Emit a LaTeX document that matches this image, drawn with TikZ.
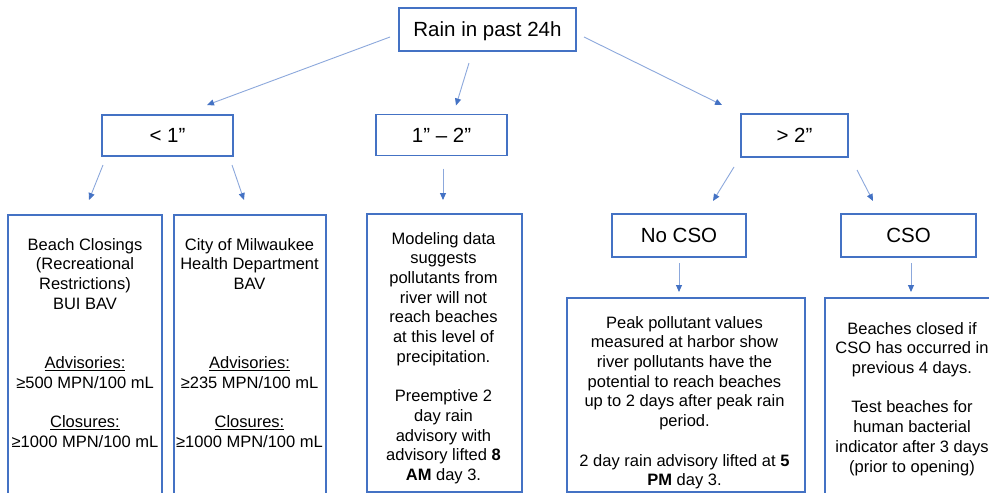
\documentclass[tikz,border=0pt]{standalone}
\usepackage{fontspec}
\setmainfont{Liberation Sans}
\usetikzlibrary{arrows.meta}
\definecolor{boxblue}{RGB}{68,114,196}
\definecolor{linkblue}{RGB}{140,168,220}

\begin{document}
\begin{tikzpicture}[x=1pt,y=-1pt,
  box/.style={draw=boxblue, line width=1.6pt, inner sep=0pt, outer sep=0pt},
  tag/.style={box, font=\fontsize{20.5}{24}\selectfont, text height=14.7pt, text depth=0pt},
  body/.style={anchor=north, align=center, inner sep=0pt, font=\fontsize{16.5}{19.7}\selectfont},
  link/.style={draw=linkblue, line width=0.9pt, -{Triangle[length=7pt,width=6pt,color=boxblue]}}]
\clip (0,0) rectangle (989,493);
\fill[white] (0,0) rectangle (989,493);

% decision levels
\node[tag, minimum width=177pt, minimum height=43pt] (top) at (487.5,29.5) {Rain in past 24h};
\node[tag, minimum width=131pt, minimum height=41pt] (lt)  at (167.5,135.5) {< 1”};
\node[tag, minimum width=131pt, minimum height=41pt] (mid) at (441.5,135) {1” – 2”};
\node[tag, minimum width=107pt, minimum height=43pt] (gt)  at (794.5,135.5) {> 2”};
\node[tag, minimum width=134pt, minimum height=43pt] (nocso) at (679,235.5) {No CSO};
\node[tag, minimum width=135pt, minimum height=43pt] (cso)   at (908.5,235.5) {CSO};

% outcome boxes
\node[box, minimum width=154pt, minimum height=295pt] (b1) at (85,362.5) {};
\node[box, minimum width=152pt, minimum height=295pt] (b2) at (250,362.5) {};
\node[box, minimum width=155pt, minimum height=278pt] (b3) at (444.5,353) {};
\node[box, minimum width=238pt, minimum height=194pt] (b4) at (686,395) {};
\node[box, minimum width=174pt, minimum height=212pt] (b5) at (912,404) {};

% outcome texts
\node[body] (t1) at (85,238) {Beach Closings\\(Recreational\\Restrictions)\\BUI BAV\\[39.4pt]
  \underline{Advisories:}\\≥500 MPN/100 mL\\[19.7pt]\underline{Closures:}\\≥1000 MPN/100 mL};
\node[body] (t2) at (249.5,238) {City of Milwaukee\\Health Department\\BAV\\[59.1pt]
  \underline{Advisories:}\\≥235 MPN/100 mL\\[19.7pt]\underline{Closures:}\\≥1000 MPN/100 mL};
\node[body] (t3) at (443.5,232) {Modeling data\\suggests\\pollutants from\\river will not\\reach beaches\\at this level of\\precipitation.\\[19.7pt]
  Preemptive 2\\day rain\\advisory with\\advisory lifted \textbf{8}\\\textbf{AM} day 3.};
\node[body] (t4) at (684.5,316) {Peak pollutant values\\measured at harbor show\\river pollutants have the\\potential to reach beaches\\up to 2 days after peak rain\\period.\\[19.7pt]
  2 day rain advisory lifted at \textbf{5}\\\textbf{PM} day 3.};
\node[body] (t5) at (912,322) {Beaches closed if\\CSO has occurred in\\previous 4 days.\\[19.7pt]
  Test beaches for\\human bacterial\\indicator after 3 days\\(prior to opening)};

% connectors
\draw[link] ([xshift=-9pt,yshift=-7.5pt]top.west) -- ([xshift=39.5pt,yshift=10pt]lt.north);
\draw[link] ([xshift=-18.5pt,yshift=-12pt]top.south) -- ([xshift=14.5pt,yshift=9pt]mid.north);
\draw[link] ([xshift=8pt,yshift=-7.5pt]top.east) -- ([xshift=-72.5pt,yshift=9pt]gt.north);
\draw[link] ([xshift=1pt,yshift=-9pt]lt.south west) -- ([xshift=4pt,yshift=15pt]b1.north);
\draw[link] ([xshift=-1pt,yshift=-9pt]lt.south east) -- ([xshift=-6pt,yshift=15pt]b2.north);
\draw[link] ([xshift=1.5pt,yshift=-13pt]mid.south) -- ([xshift=-1.5pt,yshift=14pt]b3.north);
\draw[link] ([xshift=-7pt,yshift=-10pt]gt.south west) -- ([xshift=34pt,yshift=13pt]nocso.north);
\draw[link] ([xshift=9pt,yshift=-13pt]gt.south east) -- ([xshift=-35.5pt,yshift=13pt]cso.north);
\draw[link] ([yshift=-6pt]nocso.south) -- ([xshift=-7pt,yshift=6pt]b4.north);
\draw[link] ([xshift=2.5pt,yshift=-6pt]cso.south) -- ([xshift=-1pt,yshift=6pt]b5.north);
\end{tikzpicture}
\end{document}
